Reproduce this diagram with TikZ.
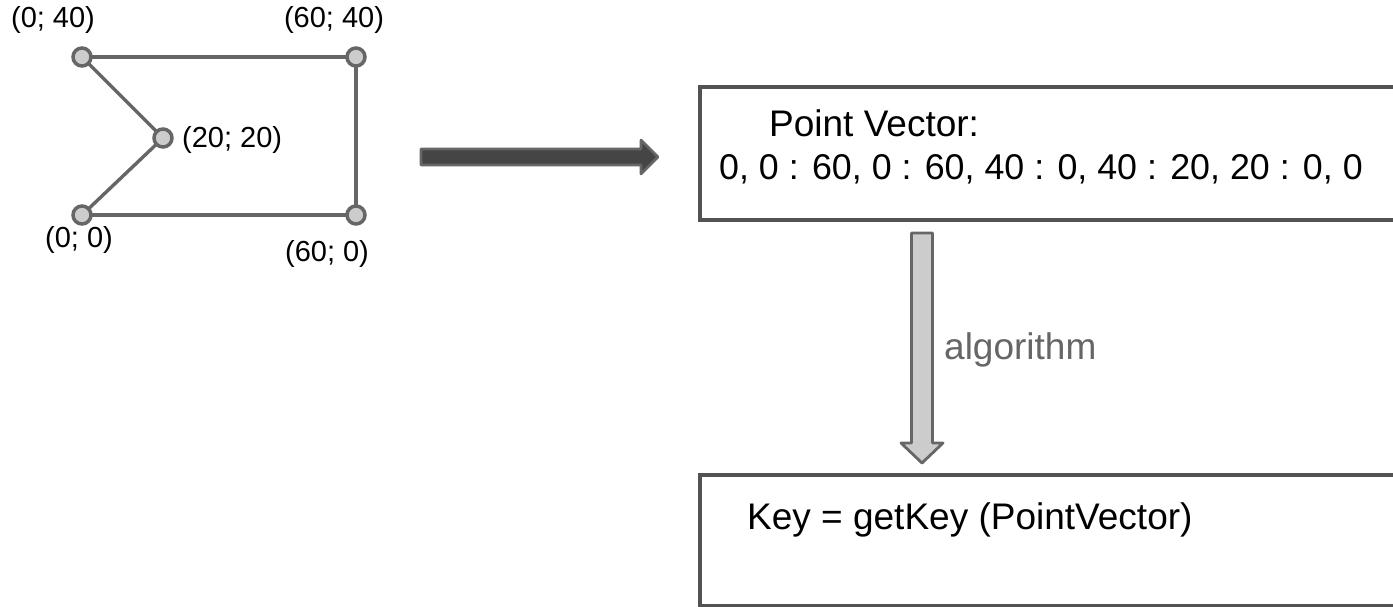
\documentclass[tikz,border=0pt]{standalone}
\usepackage{fontspec}
\setmainfont{Liberation Sans}
\usetikzlibrary{calc,backgrounds}
\begin{document}
\begin{tikzpicture}[x=1pt,y=-1pt,
  vtx/.style={circle,draw=black!60,fill=black!20,line width=3.5pt,minimum size=18pt,inner sep=0pt},
  edge/.style={draw=black!60,line width=3.4pt},
  coordlbl/.style={font=\fontsize{29}{34}\selectfont,inner sep=0pt},
  bigtxt/.style={font=\fontsize{37}{44}\selectfont,inner sep=0pt,anchor=west},
  bigbox/.style={draw=black!68,line width=4pt,inner sep=0pt,anchor=north west}]
\useasboundingbox (0,0) rectangle (1393,606);
\clip (0,0) rectangle (1393,606);
% polygon
\node[vtx] (p1) at (82,57) {};
\node[vtx] (p2) at (356,57) {};
\node[vtx] (p3) at (163,138) {};
\node[vtx] (p4) at (82,215) {};
\node[vtx] (p5) at (356,215) {};
\begin{scope}[on background layer]
\fill[white] (0,0) rectangle (1393,606);
\path[edge] (p1.center) -- (p2.center);
\path[edge] (p2.center) -- (p5.center);
\path[edge] (p5.center) -- (p4.center);
\path[edge] (p4.center) -- (p3.center);
\path[edge] (p3.center) -- (p1.center);
\end{scope}
\node[coordlbl] (l1) at (53,20) {(0; 40)};
\node[coordlbl] (l2) at (334,20) {(60; 40)};
\node[coordlbl,anchor=west] (l3) at (182,140) {(20; 20)};
\node[coordlbl] (l4) at (79,240) {(0; 0)};
\node[coordlbl] (l5) at (327,254) {(60; 0)};
% boxes
\node[bigbox,minimum width=760pt,minimum height=133pt] (b1) at (698,85) {};
\node[bigbox,minimum width=760pt,minimum height=131pt] (b2) at (698,473) {};
\node[bigtxt] (t1) at (769,123) {Point Vector:};
\node[bigtxt,font=\fontsize{35.8}{44}\selectfont] (t2) at (719,169) {0, 0 : 60, 0 : 60, 40 : 0, 40 : 20, 20 : 0, 0};
\node[bigtxt] (t3) at (747,520) {Key = getKey (PointVector)};
% horizontal block arrow
\coordinate (ha) at (421,157);
\coordinate (hb) at (658,157);
\filldraw[fill=black!73,draw=black!60,line width=2.6pt,line join=round]
  ($(ha)+(0,-8)$) -- ($(hb)+(-17,-8)$) -- ($(hb)+(-17,-17)$) -- (hb)
  -- ($(hb)+(-17,17)$) -- ($(hb)+(-17,8)$) -- ($(ha)+(0,8)$) -- cycle;
% vertical block arrow
\coordinate (va) at (922,233);
\coordinate (vb) at (922,463);
\filldraw[fill=black!20,draw=black!60,line width=2.8pt,line join=round]
  ($(va)+(-10.5,0)$) -- ($(vb)+(-10.5,-20)$) -- ($(vb)+(-21,-20)$) -- (vb)
  -- ($(vb)+(21,-20)$) -- ($(vb)+(10.5,-20)$) -- ($(va)+(10.5,0)$) -- cycle;
\node[font=\fontsize{37}{44}\selectfont,text=black!60,inner sep=0pt,anchor=west] (alg) at (944,350) {algorithm};
\end{tikzpicture}
\end{document}
